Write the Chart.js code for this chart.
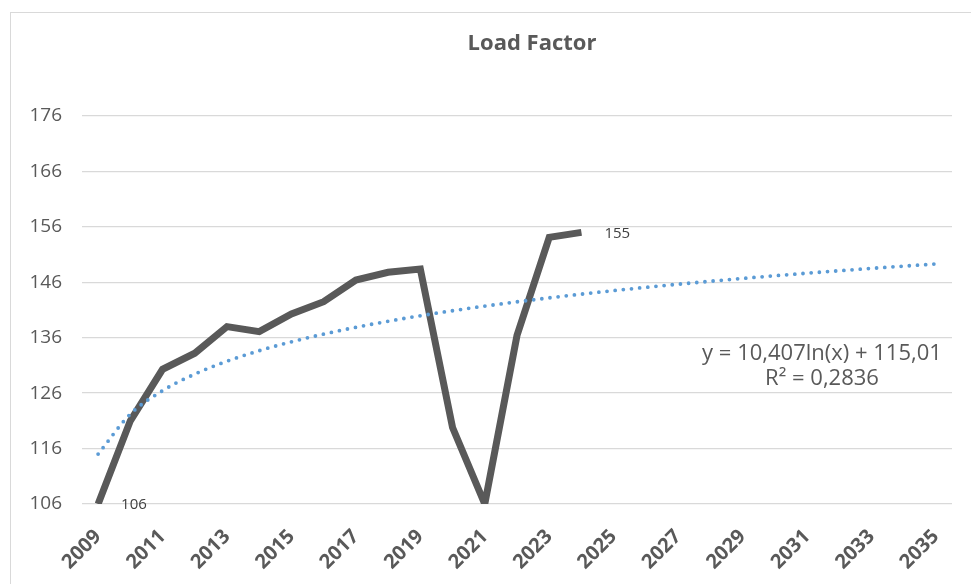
<!DOCTYPE html>
<html>
<head>
<meta charset="utf-8">
<script src="https://cdn.jsdelivr.net/npm/chart.js@4/dist/chart.umd.min.js"></script>
<style>
  html, body { margin: 0; padding: 0; background: #fff; width: 971px; height: 584px; overflow: hidden; }
  #frame {
    position: absolute; left: 10px; top: 12px;
    width: 1043px; height: 600px;
    border-left: 1px solid #d9d9d9; border-top: 1px solid #d9d9d9;
    box-sizing: border-box; background: #fff;
  }
  #frame canvas { display: block; }
</style>
</head>
<body>
<div id="frame"><canvas id="chart" width="1042" height="571"></canvas></div>
<script>
// Years on the category axis (only every second one is labelled)
const years = ['2009','2010','2011','2012','2013','2014','2015','2016','2017','2018',
               '2019','2020','2021','2022','2023','2024','2025','2026','2027','2028',
               '2029','2030','2031','2032','2033','2034','2035'];

// Observed load factor, 2009–2024
const loadFactor = [106, 121, 130.3, 133.2, 138, 137.1, 140.3, 142.5, 146.4, 147.8,
                    148.4, 119.8, 106, 136.4, 154.1, 155];

// Value axis ticks
const yTicks = [106, 116, 126, 136, 146, 156, 166, 176];

// Logarithmic trend line as stated in its label: y = a·ln(x) + b, x = 1, 2, …
const trendSlope = 10.407;
const trendIntercept = 115.01;
const trendText = ['y = 10,407ln(x) + 115,01', 'R² = 0,2836'];
const trendValues = years.map((_, i) => trendIntercept + trendSlope * Math.log(i + 1));

const FONT = "'Open Sans', 'Liberation Sans', sans-serif";
const TEXT = '#595959';

// Value labels at the first and last observation
const pointLabels = {
  id: 'pointLabels',
  afterDatasetsDraw(chart) {
    const meta = chart.getDatasetMeta(1);
    const ctx = chart.ctx;
    ctx.save();
    ctx.font = `15px ${FONT}`;
    ctx.fillStyle = '#404040';
    ctx.textAlign = 'left';
    ctx.textBaseline = 'middle';
    [0, loadFactor.length - 1].forEach(i => {
      const p = meta.data[i];
      ctx.fillText(String(Math.round(loadFactor[i])), p.x + 23, p.y + 1);
    });
    ctx.restore();
  }
};

// Trend equation text in the lower right of the plot
const trendEquation = {
  id: 'trendEquation',
  afterDatasetsDraw(chart) {
    const { ctx, chartArea, scales } = chart;
    const cx = chartArea.right - 130;
    const y0 = scales.y.getPixelForValue(133.1);
    ctx.save();
    ctx.font = `22px ${FONT}`;
    ctx.fillStyle = TEXT;
    ctx.textAlign = 'center';
    ctx.textBaseline = 'middle';
    trendText.forEach((t, k) => ctx.fillText(t, cx, y0 + k * 25));
    ctx.restore();
  }
};

new Chart(document.getElementById('chart'), {
  type: 'line',
  data: {
    labels: years,
    datasets: [
      {
        label: 'Log. (Load Factor)',
        data: trendValues,
        borderColor: '#5B9BD5',
        borderWidth: 3.8,
        borderDash: [0, 8.2],
        borderCapStyle: 'round',
        cubicInterpolationMode: 'monotone',
        pointRadius: 0,
        fill: false,
        order: 0
      },
      {
        label: 'Load Factor',
        data: loadFactor,
        borderColor: '#595959',
        borderWidth: 7,
        borderCapStyle: 'butt',
        borderJoinStyle: 'miter',
        tension: 0,
        pointRadius: 0,
        fill: false,
        clip: 0,
        order: 1
      }
    ]
  },
  options: {
    responsive: false,
    animation: false,
    events: [],
    layout: { padding: 0 },
    plugins: {
      legend: { display: false },
      tooltip: { enabled: false },
      title: {
        display: true,
        text: 'Load Factor',
        color: TEXT,
        font: { family: FONT, size: 22, weight: 'bold', lineHeight: 1.2 },
        padding: { top: 17.3, bottom: 59.3 }
      }
    },
    scales: {
      x: {
        type: 'category',
        offset: true,
        grid: { display: false, drawTicks: false },
        border: { display: false },
        ticks: {
          autoSkip: false,
          maxRotation: 45,
          minRotation: 45,
          padding: 21,
          color: TEXT,
          font: { family: FONT, size: 20, weight: 'bold' },
          callback: (v, i) => (i % 2 === 0 ? years[i] : '')
        },
        afterFit: s => { s.height = 80; }
      },
      y: {
        type: 'linear',
        min: yTicks[0],
        max: yTicks[yTicks.length - 1],
        afterBuildTicks: s => { s.ticks = yTicks.map(v => ({ value: v })); },
        grid: { color: '#d9d9d9', lineWidth: 1.3, drawTicks: false },
        border: { display: false },
        ticks: {
          padding: 20,
          color: TEXT,
          font: { family: FONT, size: 19 }
        },
        afterFit: s => { s.width = 71; }
      },
      yPad: {
        type: 'linear',
        position: 'right',
        display: true,
        grid: { display: false, drawTicks: false },
        border: { display: false },
        ticks: { display: false },
        afterFit: s => { s.width = 101; }
      }
    }
  },
  plugins: [pointLabels, trendEquation]
});
</script>
</body>
</html>
